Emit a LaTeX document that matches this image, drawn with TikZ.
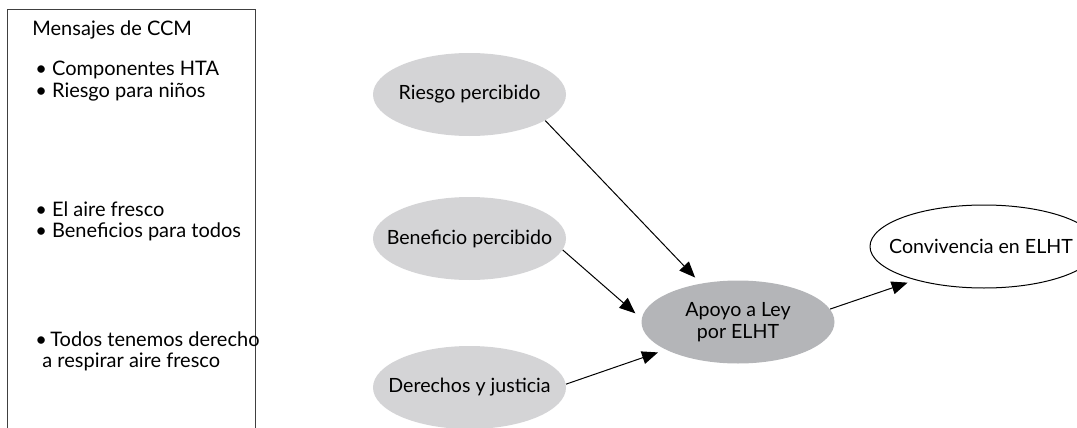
\documentclass[tikz,border=0pt]{standalone}
\usepackage{fontspec}
\setmainfont{Lato}
\usetikzlibrary{arrows.meta,shapes.geometric}
\definecolor{lightoval}{RGB}{212,212,214}
\definecolor{darkoval}{RGB}{180,181,184}
\tikzset{
	oval/.style={ellipse, inner ysep=0pt, inner xsep=-25pt, minimum width=96.5pt, minimum height=41.5pt, font=\fontsize{9.8}{11}\selectfont},
	msg/.style={anchor=base west, inner sep=0pt, align=left, font=\fontsize{10}{10.5}\selectfont},
	arr/.style={line width=0.5pt, -{Triangle[length=8pt,width=6.5pt]}, shorten >=4pt},
}

\begin{document}
\begin{tikzpicture}[x=0.5pt, y=-0.5pt]
		%%%%% START %%%%%
		\useasboundingbox (0, 0) rectangle (1077, 428);
		
		\draw[line width=0.5pt, color=black!75] (7, 9) rectangle (255, 440);
		
		\node[msg] (title) at (32, 35) {Mensajes de CCM};
		\node[msg] (msgA) at (35, 97) {\textbullet\ Componentes HTA\\\textbullet\ Riesgo para niños};
		\node[msg] (msgB) at (35, 237) {\textbullet\ El aire fresco\\\textbullet\ Beneficios para todos};
		\node[msg] (msgC) at (35, 367) {\textbullet\,Todos tenemos derecho\\\hspace*{3.5pt}a respirar aire fresco};
		
		\node[oval, fill=lightoval] (riesgo) at (469.5, 94.5) {Riesgo percibido};
		\node[oval, fill=lightoval] (beneficio) at (469.5, 238.5) {Beneficio percibido};
		\node[oval, fill=lightoval] (derechos) at (469.5, 387.5) {Derechos y justicia};
		\node[oval, fill=darkoval, align=center] (apoyo) at (738, 322) {Apoyo a Ley\\por ELHT};
		\node[oval, draw=black, line width=0.5pt, fill=white, minimum width=114pt] (conv) at (984, 246.5) {\hspace*{-3pt}Convivencia en ELHT};
		
		\draw[arr] (riesgo.-19) -- (apoyo.134.5);
		\draw[arr] (beneficio.-7) -- (apoyo.178);
		\draw[arr] (derechos.2) -- (apoyo.201.5);
		\draw[arr] (apoyo.8) -- (conv.206);
		
		%%%%% END %%%%%
	\end{tikzpicture}
\end{document}
